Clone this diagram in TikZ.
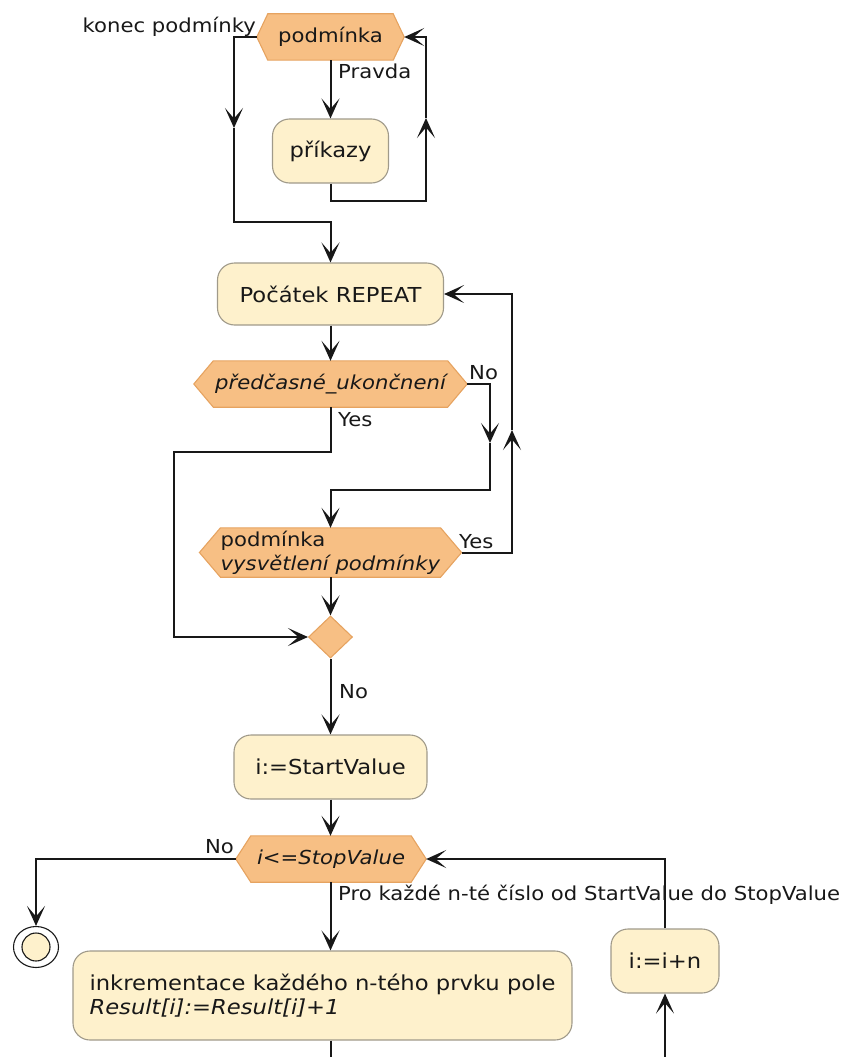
\documentclass[tikz,border=0pt]{standalone}
\usepackage{fontspec}
\setmainfont{DejaVu Sans}[FakeStretch=1.1]
\usetikzlibrary{arrows.meta,shapes.geometric,calc,backgrounds}

\definecolor{linec}{HTML}{181818}
\definecolor{hexf}{HTML}{F7BF84}
\definecolor{hexb}{HTML}{E6A360}
\definecolor{actf}{HTML}{FEF1CC}
\definecolor{actb}{HTML}{A09A8A}

\tikzset{
  edge/.style={draw=linec, line width=2pt},
  flow/.style={edge, -{Stealth[length=20pt,width=18pt,inset=10.5pt]}},
  act/.style={draw=actb, fill=actf, line width=1.1pt, rounded corners=17pt,
    inner sep=0pt, text=linec, font=\fontsize{20.6}{24}\selectfont},
  core/.style={inner sep=0pt, text=linec, font=\fontsize{19.25}{24}\selectfont},
  lbl/.style={inner sep=0pt, text=linec, font=\fontsize{19.25}{24}\selectfont},
  hexa/.style={draw=hexb, fill=hexf, line width=1.1pt},
  merge/.style={diamond, draw=hexb, fill=hexf, line width=1.1pt,
    minimum width=44pt, minimum height=42pt, inner sep=0pt},
}

% hexagonal decision outline around a text node; #2 = width of the side points
\newcommand\hexoutline[2]{%
  \coordinate (#1-w) at ($(#1.west)+(-#2,0)$);
  \coordinate (#1-e) at ($(#1.east)+(#2,0)$);
  \begin{pgfonlayer}{background}
    \path[hexa] (#1.north west) -- (#1.north east) -- (#1-e)
      -- (#1.south east) -- (#1.south west) -- (#1-w) -- cycle;
  \end{pgfonlayer}
}

\begin{document}
\begin{tikzpicture}[x=1pt,y=-1pt]
\useasboundingbox (0,0) rectangle (845,1057);

% while loop
\node[core, minimum width=125pt, minimum height=46pt] (c1) at (330.5,37) {podmínka};
\hexoutline{c1}{11}
\node[act, minimum width=116pt, minimum height=64pt] (prik) at (330.5,151) {příkazy};

% repeat loop
\node[act, minimum width=226pt, minimum height=62pt] (start) at (330.5,294) {Počátek REPEAT};
\node[core, minimum width=234pt, minimum height=46pt] (c2) at (330.5,384) {\itshape předčasné\_ukončnení};
\hexoutline{c2}{19.5}
\node[core, minimum width=215pt, minimum height=49pt, align=left] (c3) at (330.5,552.5)
  {podmínka\\\textit{vysvětlení podmínky}};
\hexoutline{c3}{21}
\node[merge] (m) at (330.5,637) {};

% for loop
\node[act, minimum width=193pt, minimum height=64pt] (init) at (330.5,767) {i:=StartValue};
\node[core, minimum width=160pt, minimum height=46pt] (c4) at (331,859) {\itshape i<=StopValue};
\hexoutline{c4}{15}
\node[act, minimum width=499pt, minimum height=89pt, align=left] (body) at (322.5,995.5)
  {inkrementace každého n-tého prvku pole\\\textit{Result[i]:=Result[i]+1}};
\node[act, minimum width=108pt, minimum height=64pt] (inc) at (665,961) {i:=i+n};

% final state
\node[ellipse, draw=linec, line width=1.1pt, minimum width=45pt, minimum height=41pt, inner sep=0pt] (end) at (36,947) {};
\node[circle, draw=linec, fill=actf, line width=1.1pt, minimum size=28pt, inner sep=0pt] (endin) at (end.center) {};

% bends and mid-line arrow points
\coordinate (a1) at (234,128);
\coordinate (k2) at (234,222);
\coordinate (k1) at (426,201);
\coordinate (a2) at (426,118);
\coordinate (a3) at (490,443);
\coordinate (k3) at (490,490);
\coordinate (k4) at (174,452);
\coordinate (a4) at (512,430);
\coordinate (bb) at (330.5,1057);
\coordinate (ib) at (665,1057);

% while loop connectors
\draw[flow] (c1.south) -- (prik.north);
\draw[flow] (prik.south) |- (k1) -- (a2);
\draw[flow] (a2) |- (c1-e);
\draw[flow] (c1-w) -| (a1);
\draw[flow] (a1) -- (k2) -| (start.north);

% repeat loop connectors
\draw[flow] (start.south) -- (c2.north);
\draw[flow] (c2-e) -| (a3);
\draw[flow] (a3) -- (k3) -| (c3.north);
\draw[flow] (c2.south) |- (k4) |- (m.west);
\draw[flow] (c3-e) -| (a4);
\draw[flow] (a4) |- (start.east);
\draw[flow] (c3.south) -- (m.north);
\draw[flow] (m.south) -- (init.north);

% for loop connectors
\draw[flow] (init.south) -- (init.south |- c4.north);
\draw[flow] (c4-w) -| (end.north);
\draw[flow] (init.south |- c4.south) -- (init.south |- body.north);
\draw[edge] (bb |- body.south) -- (bb);
\draw[flow] (ib) -- (inc.south);
\draw[flow] (inc.north) |- (c4-e);

% labels
\node[lbl, anchor=base east] (l1) at (256,33) {konec podmínky};
\node[lbl, anchor=base west] (l2) at (338,78) {Pravda};
\node[lbl, anchor=base west] (l3) at (469,379) {No};
\node[lbl, anchor=base west] (l4) at (338,426) {Yes};
\node[lbl, anchor=base west] (l5) at (459,548) {Yes};
\node[lbl, anchor=base west] (l6) at (339,698) {No};
\node[lbl, anchor=base east] (l7) at (234,853) {No};
\node[lbl, anchor=base west] (l8) at (338,900) {Pro každé n-té číslo od StartValue do StopValue};
\end{tikzpicture}
\end{document}
